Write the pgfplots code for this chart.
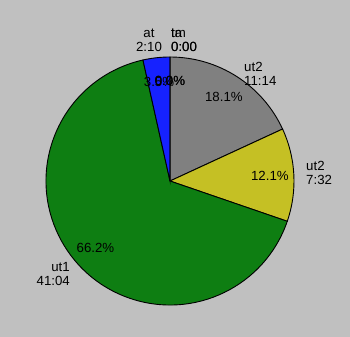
\documentclass[border=0pt]{standalone}
\usepackage{pgfplots}
\pgfplotsset{compat=1.18}
\usepackage{fontspec}
\setmainfont{Liberation Sans}
\definecolor{bgc}{RGB}{192,192,192}
\definecolor{cgray}{RGB}{128,128,128}
\definecolor{cyel}{RGB}{197,192,36}
\definecolor{cgreen}{RGB}{14,126,18}
\definecolor{cblue}{RGB}{22,34,255}
\begin{document}
\begin{tikzpicture}
% slice values in minutes (ut2 11:14, ut2 7:32, ut1 41:04, at 2:10, tm 0:00, ta 0:00)
\def\vA{674}\def\vB{452}\def\vC{2464}\def\vD{130}\def\vE{0}\def\vF{0}
\pgfmathsetmacro\tot{\vA+\vB+\vC+\vD+\vE+\vF}
\pgfmathsetmacro\aA{90}
\pgfmathsetmacro\aB{\aA-360*(\vA/\tot)}
\pgfmathsetmacro\aC{\aB-360*(\vB/\tot)}
\pgfmathsetmacro\aD{\aC-360*(\vC/\tot)}
\pgfmathsetmacro\aE{\aD-360*(\vD/\tot)}
\pgfmathsetmacro\mA{(\aA+\aB)/2}
\pgfmathsetmacro\mB{(\aB+\aC)/2}
\pgfmathsetmacro\mC{(\aC+\aD)/2}
\pgfmathsetmacro\mD{(\aD+\aE)/2}
\tikzset{every node/.append style={font=\fontsize{13.3}{14}\selectfont, inner sep=0pt}}
\begin{axis}[
  scale only axis, width=350bp, height=337bp,
  xmin=0, xmax=350, ymin=-337, ymax=0,
  axis line style={draw=none}, ticks=none,
  axis background/.style={fill=bgc},
  clip=false]
\filldraw[fill=cgray,draw=black,line width=0.9bp] (axis cs:170,-181) -- ++(\aA:124bp) arc[start angle=\aA,end angle=\aB,radius=124bp] -- cycle;
\filldraw[fill=cyel,draw=black,line width=0.9bp] (axis cs:170,-181) -- ++(\aB:124bp) arc[start angle=\aB,end angle=\aC,radius=124bp] -- cycle;
\filldraw[fill=cgreen,draw=black,line width=0.9bp] (axis cs:170,-181) -- ++(\aC:124bp) arc[start angle=\aC,end angle=\aD,radius=124bp] -- cycle;
\filldraw[fill=cblue,draw=black,line width=0.9bp] (axis cs:170,-181) -- ++(\aD:124bp) arc[start angle=\aD,end angle=\aE,radius=124bp] -- cycle;
\draw[black,line width=0.9bp] (axis cs:170,-181) -- ++(\aE:124bp);
% percentages
\path (axis cs:170,-181) ++(\mA:100bp) node {18.1\%};
\path (axis cs:170,-181) ++(\mB:100bp) node {12.1\%};
\path (axis cs:170,-181) ++(\mC:100bp) node {66.2\%};
\path (axis cs:170,-181) ++(\mD:100bp) node {3.5\%};
\path (axis cs:170,-181) ++(\aE:100bp) node {0.0\%};
\path (axis cs:170,-181) ++(\aE:100bp) node {0.0\%};
% outer labels
\node[anchor=west,align=left] at (axis cs:244,-74) {ut2\\11:14};
\node[anchor=west,align=left] at (axis cs:306,-173) {ut2\\7:32};
\node[anchor=east,align=right] at (axis cs:70,-274) {ut1\\41:04};
\node[align=center] at (axis cs:149,-40) {at\\2:10};
\node[anchor=west,align=left] at (axis cs:171,-40) {tm\\0:00};
\node[anchor=west,align=left] at (axis cs:171,-40) {ta\\0:00};
\end{axis}
\end{tikzpicture}
\end{document}
